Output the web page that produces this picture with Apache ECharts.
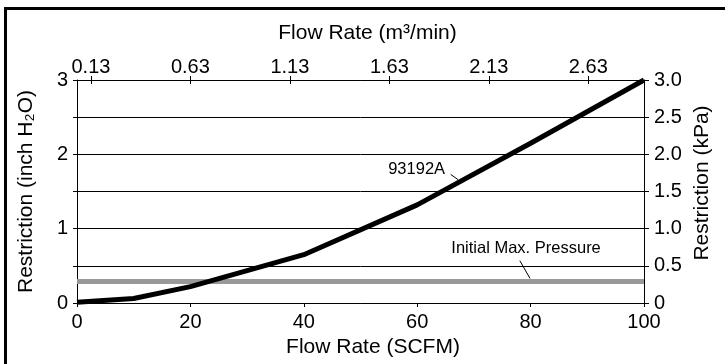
<!DOCTYPE html>
<html><head><meta charset="utf-8">
<script src="https://cdn.jsdelivr.net/npm/echarts@6/dist/echarts.min.js"></script>
<style>html,body{margin:0;padding:0;background:#fff}#c{width:725px;height:364px}</style>
</head><body><div id="c"></div>
<script>
// ---- data ----
const scfm = [0, 10, 20, 40, 60, 80, 100];
const restrictionInH2O = [0.01, 0.06, 0.22, 0.65, 1.32, 2.15, 3.0];
const initialMaxPressure = 0.29;
const topTickLabels = ['0.13', '0.63', '1.13', '1.63', '2.13', '2.63'];
const topAxisRange = [0.06, 2.91];
const leftTickLabels = ['0', '1', '2', '3'];
const rightTickLabels = ['0', '0.5', '1.0', '1.5', '2.0', '2.5', '3.0'];
const annotations = [
  { text: '93192A', at: [59.9, 1.80], leader: [[65.9, 1.73], [67.2, 1.66]] },
  { text: 'Initial Max. Pressure', at: [79.2, 0.74], leader: [[78.1, 0.57], [79.9, 0.33]] }
];

const topTickValues = topTickLabels.map(Number);
const FONT = "'Liberation Sans', Arial, Helvetica, sans-serif";
const chart = echarts.init(document.getElementById('c'), null, { renderer: 'canvas' });
const txt = (s) => Object.assign({ color: '#000', fontFamily: FONT, fontSize: 20 }, s || {});
const isMult = (v, step) => Math.abs(v / step - Math.round(v / step)) < 1e-6;
const LINE = { onZero: false, lineStyle: { color: '#000', width: 1 } };

const option = {
  animation: false,
  backgroundColor: '#fff',
  grid: { left: 77, right: 81, top: 80, bottom: 61, containLabel: false },
  xAxis: [
    {
      type: 'value', position: 'bottom', min: 0, max: 100, interval: 20,
      axisLine: LINE,
      axisTick: { show: true, inside: false, length: 4, lineStyle: { color: '#000' } },
      axisLabel: txt({ margin: 9 }),
      splitLine: { show: false },
      name: 'Flow Rate (SCFM)', nameLocation: 'middle', nameGap: 33,
      nameTextStyle: txt({ fontSize: 21, padding: [0, 0, 0, 25] })
    },
    {
      type: 'value', position: 'top', min: topAxisRange[0], max: topAxisRange[1],
      axisLine: LINE,
      axisTick: { show: true, inside: false, length: 4, customValues: topTickValues, lineStyle: { color: '#000' } },
      axisLabel: txt({
        margin: 3, customValues: topTickValues,
        formatter: (v) => topTickLabels[topTickValues.findIndex((t) => Math.abs(t - v) < 1e-6)] || ''
      }),
      splitLine: { show: false },
      name: 'Flow Rate (m³/min)', nameLocation: 'middle', nameGap: 36,
      nameTextStyle: txt({ fontSize: 21, padding: [0, 0, 0, 14] })
    },
    {
      type: 'value', position: 'top', min: topAxisRange[0], max: topAxisRange[1],
      axisLine: { show: false, onZero: false },
      axisTick: { show: true, inside: true, length: 4, customValues: topTickValues, lineStyle: { color: '#000' } },
      axisLabel: { show: false },
      splitLine: { show: false }
    }
  ],
  yAxis: [
    {
      type: 'value', position: 'left', min: 0, max: 3, interval: 0.5,
      axisLine: Object.assign({ show: true }, LINE),
      axisTick: { show: true, length: 4, lineStyle: { color: '#000' } },
      axisLabel: txt({
        margin: 9,
        formatter: (v) => isMult(v, 1) ? leftTickLabels[Math.round(v)] : ''
      }),
      splitLine: { show: false },
      name: 'Restriction (inch H₂O)', nameLocation: 'middle', nameGap: 40, nameRotate: 90,
      nameTextStyle: txt({ fontSize: 21 })
    },
    {
      type: 'value', position: 'right', min: 0, max: 3, interval: 0.5,
      axisLine: Object.assign({ show: true }, LINE),
      axisTick: { show: true, length: 5, lineStyle: { color: '#000' } },
      axisLabel: txt({
        margin: 10,
        formatter: (v) => rightTickLabels[Math.round(v / 0.5)]
      }),
      splitLine: { show: true, lineStyle: { color: '#000', width: 1 } }
    }
  ],
  series: [
    {
      type: 'line', xAxisIndex: 0, yAxisIndex: 0, silent: true, showSymbol: false, z: 3,
      data: [[scfm[0], initialMaxPressure], [scfm[scfm.length - 1], initialMaxPressure]],
      lineStyle: { color: '#999999', width: 5 }
    },
    {
      type: 'line', xAxisIndex: 0, yAxisIndex: 0, silent: true, showSymbol: false, z: 4,
      data: scfm.map((x, i) => [x, restrictionInH2O[i]]),
      lineStyle: { color: '#000', width: 5, join: 'round', cap: 'butt' }
    }
  ]
};
chart.setOption(option);

const px = (p) => chart.convertToPixel({ xAxisIndex: 0, yAxisIndex: 0 }, p);
const graphic = [
  { type: 'line', shape: { x1: 5.5, y1: 7, x2: 5.5, y2: 364 }, style: { stroke: '#000', lineWidth: 3 } },
  { type: 'line', shape: { x1: 4, y1: 8.5, x2: 725, y2: 8.5 }, style: { stroke: '#000', lineWidth: 3 } },
  {
    type: 'text', x: 702, y: 183, rotation: Math.PI / 2,
    style: { text: 'Restriction (kPa)', fill: '#000', font: '21px ' + FONT, align: 'center', verticalAlign: 'middle' }
  }
];
annotations.forEach((a) => {
  const c = px(a.at), p1 = px(a.leader[0]), p2 = px(a.leader[1]);
  graphic.push({
    type: 'text', x: c[0], y: c[1], z: 10,
    style: { text: a.text, fill: '#000', font: '16.5px ' + FONT, align: 'center', verticalAlign: 'middle' }
  });
  graphic.push({
    type: 'line', z: 10, shape: { x1: p1[0], y1: p1[1], x2: p2[0], y2: p2[1] },
    style: { stroke: '#000', lineWidth: 1 }
  });
});
chart.setOption({ graphic: graphic });
</script></body></html>
